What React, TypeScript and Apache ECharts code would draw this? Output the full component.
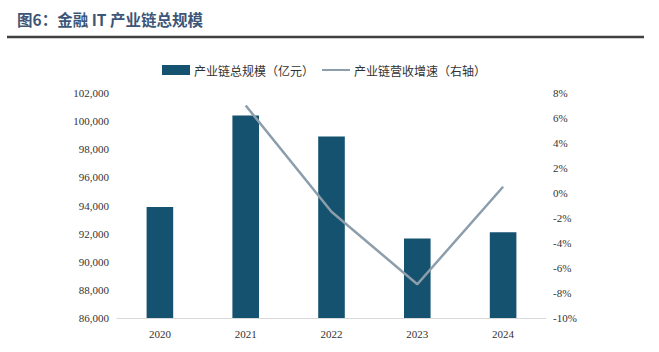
import React, { useEffect, useRef } from "react";
import * as echarts from "echarts";

const categories = ["2020", "2021", "2022", "2023", "2024"];
const scaleValues = [93900, 100400, 98900, 91650, 92100];
const growthValues: (number | null)[] = [null, 7.0, -1.5, -7.3, 0.5];
const barName = "产业链总规模（亿元）";
const lineName = "产业链营收增速（右轴）";
const titleText = "图6：金融 IT 产业链总规模";

export default function App() {
  const ref = useRef<HTMLDivElement>(null);
  useEffect(() => {
    if (!ref.current) return;
    const chart = echarts.init(ref.current, undefined, { renderer: "svg" });
    const axisFont = { fontFamily: "Liberation Serif", fontSize: 11, color: "#333333" };
    chart.setOption({
      animation: false,
      backgroundColor: "#ffffff",
      graphic: [
        {
          type: "text",
          left: 17,
          top: 11,
          style: {
            text: titleText,
            fontFamily: "Noto Sans CJK SC",
            fontWeight: "bold",
            fontSize: 15.5,
            fill: "#3d5677",
          },
        },
        {
          type: "line",
          shape: { x1: 7, y1: 37, x2: 644, y2: 37 },
          style: { stroke: "#404040", lineWidth: 2.5 },
        },
      ],
      legend: {
        left: 157,
        top: 59,
        itemWidth: 28,
        itemHeight: 10,
        itemGap: 8,
        textStyle: { fontFamily: "Noto Sans CJK SC", fontSize: 12, color: "#333333", padding: [0, 0, 0, -1] },
        data: [
          { name: barName, icon: "rect" },
          { name: lineName, icon: "path://M0,0h30v2.2h-30z" },
        ],
      },
      grid: { left: 117, right: 113, top: 93, bottom: 34 },
      xAxis: {
        type: "category",
        data: categories,
        axisLine: { onZero: false, lineStyle: { color: "#d9d9d9", width: 1 } },
        axisTick: { show: false },
        axisLabel: { ...axisFont, margin: 10 },
      },
      yAxis: [
        {
          type: "value",
          min: 86000,
          max: 102000,
          interval: 2000,
          splitLine: { show: false },
          axisLine: { show: false },
          axisTick: { show: false },
          axisLabel: {
            ...axisFont,
            margin: 8,
            formatter: (v: number) => v.toLocaleString("en-US"),
          },
        },
        {
          type: "value",
          min: -10,
          max: 8,
          interval: 2,
          splitLine: { show: false },
          axisLine: { show: false },
          axisTick: { show: false },
          axisLabel: { ...axisFont, margin: 7, formatter: "{value}%" },
        },
      ],
      series: [
        {
          name: barName,
          type: "bar",
          data: scaleValues,
          barWidth: "31%",
          itemStyle: { color: "#15526f" },
        },
        {
          name: lineName,
          type: "line",
          yAxisIndex: 1,
          data: growthValues,
          showSymbol: false,
          symbol: "none",
          lineStyle: { color: "#8c9eab", width: 2.5 },
          itemStyle: { color: "#8c9eab" },
        },
      ],
    });
    return () => chart.dispose();
  }, []);
  return <div ref={ref} style={{ width: 659, height: 352, position: "absolute", left: 0, top: 0 }} />;
}
